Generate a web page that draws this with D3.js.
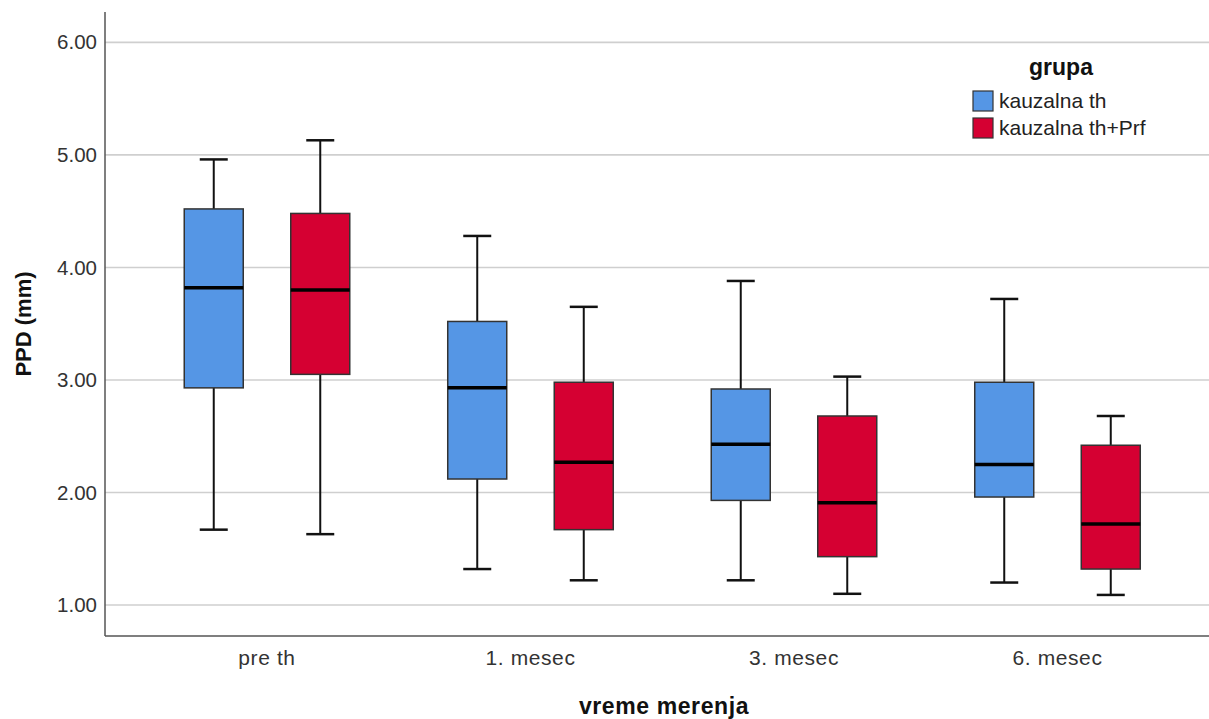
<!DOCTYPE html>
<html>
<head>
<meta charset="utf-8">
<script src="https://cdn.jsdelivr.net/npm/d3@7"></script>
<style>
  html, body { margin: 0; padding: 0; background: #fff; }
  svg { display: block; }
  text { font-family: "Liberation Sans", Arial, sans-serif; }
</style>
</head>
<body>
<svg id="chart" width="1209" height="719"></svg>
<script>
// Measurement times (x categories) and groups
const categories = ["pre th", "1. mesec", "3. mesec", "6. mesec"];
const groups = ["kauzalna th", "kauzalna th+Prf"];
const yTicks = [1, 2, 3, 4, 5, 6];

// Five-number summaries per time point: [lower whisker, Q1, median, Q3, upper whisker]
const kauzalnaTh = [
  [1.67, 2.93, 3.82, 4.52, 4.96],
  [1.32, 2.12, 2.93, 3.52, 4.28],
  [1.22, 1.93, 2.43, 2.92, 3.88],
  [1.20, 1.96, 2.25, 2.98, 3.72]
];
const kauzalnaThPrf = [
  [1.63, 3.05, 3.80, 4.48, 5.13],
  [1.22, 1.67, 2.27, 2.98, 3.65],
  [1.10, 1.43, 1.91, 2.68, 3.03],
  [1.09, 1.32, 1.72, 2.42, 2.68]
];
const groupColors = ["#5596e5", "#d50032"];

const svg = d3.select("#chart");
const plot = { left: 105, right: 1209, top: 12, bottom: 636 };

const y = d3.scaleLinear().domain([0.725, 6.27]).range([plot.bottom, plot.top]);
const x = d3.scaleBand().domain(categories).range([135.25, 1189.25]).padding(0);
const xg = d3.scaleBand().domain(groups).range([0, x.bandwidth()]).paddingInner(0.446).paddingOuter(0.46);

// Horizontal gridlines
svg.append("g").selectAll("line").data(yTicks).join("line")
  .attr("x1", plot.left).attr("x2", plot.right)
  .attr("y1", d => y(d)).attr("y2", d => y(d))
  .attr("stroke", "#cfcfcf").attr("stroke-width", 1.6);

// Y axis
const yAxis = d3.axisLeft(y).tickValues(yTicks).tickFormat(d3.format(".2f")).tickSize(0).tickPadding(8);
const gy = svg.append("g").attr("transform", `translate(${plot.left},0)`).call(yAxis);
gy.select(".domain").remove();
gy.selectAll("text").attr("font-size", 20.5).attr("fill", "#333")
  .style("font-family", "'Liberation Sans', Arial, sans-serif");

// X axis
const xAxis = d3.axisBottom(x).tickSize(0).tickPadding(14);
const gx = svg.append("g").attr("transform", `translate(0,${plot.bottom})`).call(xAxis);
gx.select(".domain").remove();
gx.selectAll("text").attr("font-size", 21).attr("fill", "#333").attr("letter-spacing", 0.6)
  .style("font-family", "'Liberation Sans', Arial, sans-serif");

// Axis frame lines (left and bottom)
svg.append("line").attr("x1", plot.left).attr("x2", plot.left)
  .attr("y1", plot.top).attr("y2", plot.bottom).attr("stroke", "#555").attr("stroke-width", 1.5);
svg.append("line").attr("x1", plot.left).attr("x2", plot.right)
  .attr("y1", plot.bottom).attr("y2", plot.bottom).attr("stroke", "#555").attr("stroke-width", 1.5);

// Box plots
const seriesData = [kauzalnaTh, kauzalnaThPrf];
const capW = 28;
seriesData.forEach((series, gi) => {
  const g = svg.append("g");
  series.forEach((s, ci) => {
    const [lo, q1, med, q3, hi] = s;
    const bx = x(categories[ci]) + xg(groups[gi]);
    const bw = xg.bandwidth();
    const cx = bx + bw / 2;
    // whiskers
    g.append("line").attr("x1", cx).attr("x2", cx).attr("y1", y(hi)).attr("y2", y(q3))
      .attr("stroke", "#111").attr("stroke-width", 2);
    g.append("line").attr("x1", cx).attr("x2", cx).attr("y1", y(q1)).attr("y2", y(lo))
      .attr("stroke", "#111").attr("stroke-width", 2);
    g.append("line").attr("x1", cx - capW / 2).attr("x2", cx + capW / 2).attr("y1", y(hi)).attr("y2", y(hi))
      .attr("stroke", "#111").attr("stroke-width", 2.5);
    g.append("line").attr("x1", cx - capW / 2).attr("x2", cx + capW / 2).attr("y1", y(lo)).attr("y2", y(lo))
      .attr("stroke", "#111").attr("stroke-width", 2.5);
    // box
    g.append("rect").attr("x", bx).attr("width", bw)
      .attr("y", y(q3)).attr("height", y(q1) - y(q3))
      .attr("fill", groupColors[gi]).attr("stroke", "#333").attr("stroke-width", 1.5);
    // median
    g.append("line").attr("x1", bx).attr("x2", bx + bw).attr("y1", y(med)).attr("y2", y(med))
      .attr("stroke", "#000").attr("stroke-width", 3.5);
  });
});

// Axis titles
svg.append("text").attr("x", 664).attr("y", 714).attr("text-anchor", "middle")
  .attr("font-size", 23).attr("font-weight", "bold").attr("letter-spacing", 0.6).attr("fill", "#111").text("vreme merenja");
svg.append("text").attr("transform", "translate(31,324) rotate(-90)").attr("text-anchor", "middle")
  .attr("font-size", 22).attr("font-weight", "bold").attr("fill", "#111").text("PPD (mm)");

// Legend
const legend = svg.append("g");
legend.append("text").attr("x", 1061).attr("y", 75).attr("text-anchor", "middle")
  .attr("font-size", 23).attr("font-weight", "bold").attr("fill", "#111").text("grupa");
groups.forEach((gname, i) => {
  const ly = 91 + i * 27;
  legend.append("rect").attr("x", 973).attr("y", ly).attr("width", 20).attr("height", 20)
    .attr("fill", groupColors[i]).attr("stroke", "#333").attr("stroke-width", 1.2);
  legend.append("text").attr("x", 999).attr("y", ly + 17).attr("font-size", 21)
    .attr("fill", "#222").text(gname);
});
</script>
</body>
</html>
